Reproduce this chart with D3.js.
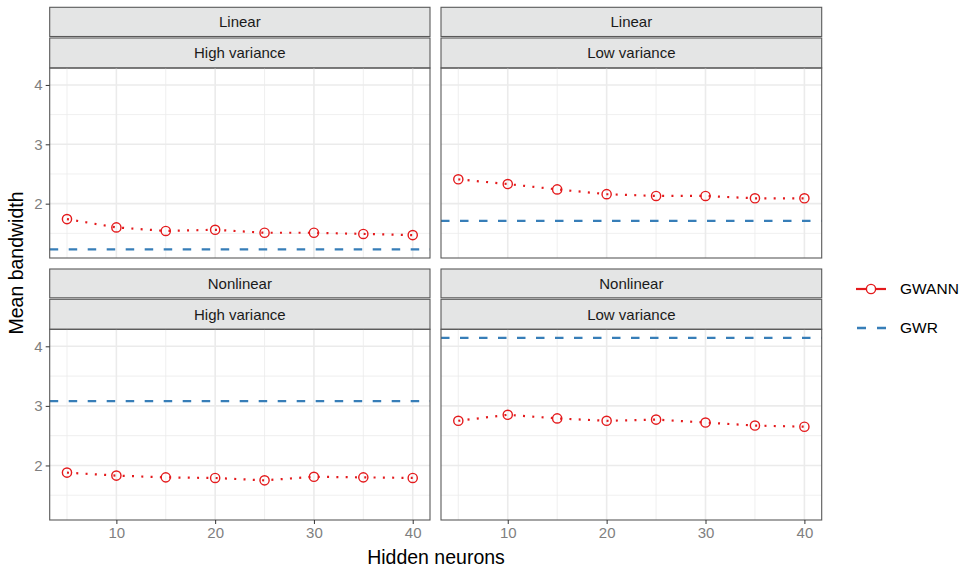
<!DOCTYPE html>
<html>
<head>
<meta charset="utf-8">
<script src="https://cdn.jsdelivr.net/npm/d3@7"></script>
<style>
  html, body { margin: 0; padding: 0; background: #fff; }
  svg { display: block; font-family: "Liberation Sans", Arial, Helvetica, sans-serif; }
</style>
</head>
<body>
<svg id="chart" width="963" height="568"></svg>
<script>
// ---- data ----
const neurons = [5, 10, 15, 20, 25, 30, 35, 40];
const rowLabels = ["Linear", "Nonlinear"];
const colLabels = ["High variance", "Low variance"];
const gwannLinearHigh = [1.74, 1.60, 1.54, 1.56, 1.51, 1.51, 1.49, 1.47];
const gwannLinearLow = [2.41, 2.33, 2.24, 2.16, 2.13, 2.13, 2.09, 2.09];
const gwannNonlinearHigh = [1.88, 1.83, 1.80, 1.79, 1.75, 1.81, 1.80, 1.79];
const gwannNonlinearLow = [2.75, 2.85, 2.79, 2.75, 2.77, 2.72, 2.67, 2.65];
const gwrValues = [1.23, 1.71, 3.08, 4.14]; // LinHigh, LinLow, NonHigh, NonLow
const xTicks = [10, 20, 30, 40];
const yTicks = [2, 3, 4];
const seriesNames = ["GWANN", "GWR"];

const gwannByPanel = [gwannLinearHigh, gwannLinearLow, gwannNonlinearHigh, gwannNonlinearLow];

const red = "#E41A1C", blue = "#377EB8";
const svg = d3.select("#chart");

// layout
const colX = [[49.7, 430], [441, 821.7]];
const rowY = [{s1: 7.3, s2: 38, top: 68, bot: 258}, {s1: 269, s2: 299.3, top: 329.3, bot: 520}];

// scales (ggplot-style 5% expansion)
const allY = gwannByPanel.flat().concat(gwrValues);
const yMin = d3.min(allY), yMax = d3.max(allY), ySpan = yMax - yMin;
const yDom = [yMin - 0.05 * ySpan, yMax + 0.05 * ySpan];
const xMin = d3.min(neurons), xMax = d3.max(neurons), xSpan = xMax - xMin;
const xDom = [xMin - 0.05 * xSpan, xMax + 0.05 * xSpan];

const xMinor = [5, 15, 25, 35];
const yMinor = [1.5, 2.5, 3.5];
const FONT = "Liberation Sans, Arial, sans-serif";

rowLabels.forEach((rl, r) => {
  colLabels.forEach((cl, c) => {
    const idx = r * 2 + c;
    const [x0, x1] = colX[c];
    const ry = rowY[r];
    const x = d3.scaleLinear().domain(xDom).range([x0, x1]);
    const y = d3.scaleLinear().domain(yDom).range([ry.bot, ry.top]);
    const g = svg.append("g");

    // strips
    [[ry.s1, ry.s2 - 1.5, rl], [ry.s2, ry.top, cl]].forEach(([t, b, lab]) => {
      g.append("rect").attr("x", x0).attr("y", t).attr("width", x1 - x0).attr("height", b - t)
        .attr("fill", "#E4E5E5").attr("stroke", "#595959").attr("stroke-width", 1.1);
      g.append("text").attr("x", (x0 + x1) / 2).attr("y", (t + b) / 2).attr("dy", "0.35em")
        .attr("text-anchor", "middle").attr("font-size", 15).attr("fill", "#1A1A1A").text(lab);
    });

    // grid
    const grid = g.append("g");
    xMinor.forEach(v => grid.append("line").attr("x1", x(v)).attr("x2", x(v)).attr("y1", ry.top).attr("y2", ry.bot)
      .attr("stroke", "#EBEBEB").attr("stroke-width", 0.8));
    yMinor.forEach(v => grid.append("line").attr("y1", y(v)).attr("y2", y(v)).attr("x1", x0).attr("x2", x1)
      .attr("stroke", "#EBEBEB").attr("stroke-width", 0.8));
    xTicks.forEach(v => grid.append("line").attr("x1", x(v)).attr("x2", x(v)).attr("y1", ry.top).attr("y2", ry.bot)
      .attr("stroke", "#EBEBEB").attr("stroke-width", 1.6));
    yTicks.forEach(v => grid.append("line").attr("y1", y(v)).attr("y2", y(v)).attr("x1", x0).attr("x2", x1)
      .attr("stroke", "#EBEBEB").attr("stroke-width", 1.6));

    // GWR dashed line
    g.append("line").attr("x1", x0).attr("x2", x1).attr("y1", y(gwrValues[idx])).attr("y2", y(gwrValues[idx]))
      .attr("stroke", blue).attr("stroke-width", 2.3).attr("stroke-dasharray", "8.5,10.5");

    // GWANN dotted line + points
    const vals = gwannByPanel[idx];
    const line = d3.line().x((d, i) => x(neurons[i])).y(d => y(d));
    g.append("path").datum(vals).attr("d", line).attr("fill", "none")
      .attr("stroke", red).attr("stroke-width", 2.2).attr("stroke-dasharray", "2,7.3");
    g.selectAll("circle.pt").data(vals).enter().append("circle")
      .attr("cx", (d, i) => x(neurons[i])).attr("cy", d => y(d)).attr("r", 4.6)
      .attr("fill", "none").attr("stroke", red).attr("stroke-width", 1.4);

    // panel border
    g.append("rect").attr("x", x0).attr("y", ry.top).attr("width", x1 - x0).attr("height", ry.bot - ry.top)
      .attr("fill", "none").attr("stroke", "#595959").attr("stroke-width", 1.1);

    // y axis on left column
    if (c === 0) {
      const ya = g.append("g").attr("transform", `translate(${x0},0)`)
        .call(d3.axisLeft(y).tickValues(yTicks).tickSize(4).tickPadding(3).tickFormat(d3.format("d")));
      ya.select(".domain").remove();
      ya.attr("font-size", 15).attr("font-family", FONT);
      ya.selectAll("line").attr("stroke", "#333").attr("stroke-width", 1);
      ya.selectAll("text").attr("fill", "#7F7F7F");
    }
    // x axis on bottom row
    if (r === 1) {
      const xa = g.append("g").attr("transform", `translate(0,${ry.bot})`)
        .call(d3.axisBottom(x).tickValues(xTicks).tickSize(4).tickPadding(3).tickFormat(d3.format("d")));
      xa.select(".domain").remove();
      xa.attr("font-size", 15).attr("font-family", FONT);
      xa.selectAll("line").attr("stroke", "#333").attr("stroke-width", 1);
      xa.selectAll("text").attr("fill", "#7F7F7F");
    }
  });
});

// axis titles
svg.append("text").attr("x", 436).attr("y", 564).attr("text-anchor", "middle")
  .attr("font-size", 19.5).attr("fill", "#000").text("Hidden neurons");
svg.append("text").attr("transform", "translate(23,263) rotate(-90)").attr("text-anchor", "middle")
  .attr("font-size", 19.5).attr("fill", "#000").text("Mean bandwidth");

// legend
const leg = svg.append("g");
const legY = [289, 328];
seriesNames.forEach((name, i) => {
  const yy = legY[i];
  if (i === 0) {
    leg.append("line").attr("x1", 856).attr("x2", 886).attr("y1", yy).attr("y2", yy)
      .attr("stroke", red).attr("stroke-width", 2.2);
    leg.append("circle").attr("cx", 871).attr("cy", yy).attr("r", 4.6)
      .attr("fill", "#fff").attr("stroke", red).attr("stroke-width", 1.4);
  } else {
    leg.append("line").attr("x1", 857).attr("x2", 886).attr("y1", yy).attr("y2", yy)
      .attr("stroke", blue).attr("stroke-width", 2.3).attr("stroke-dasharray", "9,11");
  }
  leg.append("text").attr("x", 900).attr("y", yy).attr("dy", "0.35em")
    .attr("font-size", 15.5).attr("fill", "#000").text(name);
});
</script>
</body>
</html>
